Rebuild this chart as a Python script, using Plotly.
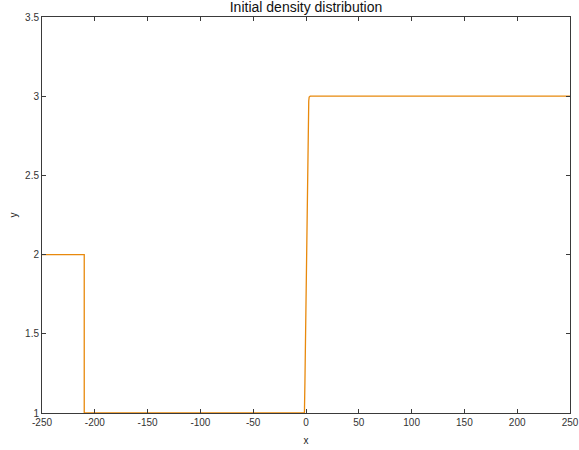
import plotly.graph_objects as go

# Density profile
x_vals = [-250, -210, -210, -2, -1.5, -1, 0, 1, 1.8, 2.2, 2.6, 3, 4, 250]
y_vals = [2, 2, 1, 1, 1.0, 1.2, 1.7, 2.3, 2.75, 2.9, 2.97, 2.995, 3, 3]

x_ticks = [-250, -200, -150, -100, -50, 0, 50, 100, 150, 200, 250]
x_tick_text = ["-250", "-200", "-150", "-100", "-50", "0", "50", "100", "150", "200", "250"]
y_ticks = [1, 1.5, 2, 2.5, 3, 3.5]
y_tick_text = ["1", "1.5", "2", "2.5", "3", "3.5"]

FONT = "Liberation Sans, Arial"

fig = go.Figure()
fig.add_trace(go.Scatter(x=x_vals, y=y_vals, mode="lines",
                         line=dict(color="#e8890c", width=1.3),
                         showlegend=False, cliponaxis=False))

axis_common = dict(showgrid=False, zeroline=False, showline=True,
                   linecolor="#3a3a3a", linewidth=1, mirror="allticks",
                   ticks="inside", ticklen=4, tickcolor="#3a3a3a",
                   automargin=False,
                   tickfont=dict(family=FONT, size=10, color="#333"))

fig.update_layout(
    width=579, height=450,
    margin=dict(l=42, r=9, t=17, b=37, autoexpand=False),
    plot_bgcolor="white", paper_bgcolor="white",
    title=dict(text="Initial density distribution", x=0.5, xanchor="center",
               xref="paper", yref="container", y=1 - 7 / 450, yanchor="middle",
               automargin=False,
               font=dict(family=FONT, size=14, color="#111")),
    xaxis=dict(range=[-250, 250], tickvals=x_ticks, ticktext=x_tick_text,
               title=dict(text="x", standoff=9,
                          font=dict(family=FONT, size=10, color="#222")),
               **axis_common),
    yaxis=dict(range=[1, 3.5], tickvals=y_ticks, ticktext=y_tick_text,
               title=dict(text="y", standoff=5,
                          font=dict(family=FONT, size=10, color="#222")),
               **axis_common),
)

fig.write_html("out.html", config={"displayModeBar": False},
               post_script="document.body.style.margin='0';document.body.style.overflow='hidden';")
